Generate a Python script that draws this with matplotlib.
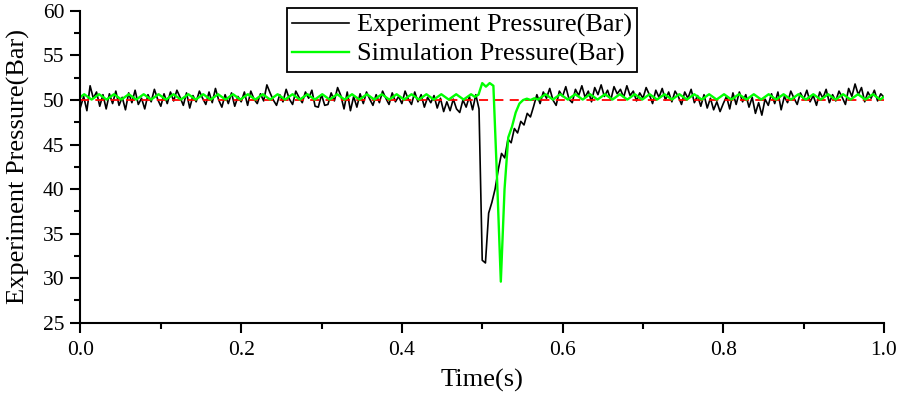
import numpy as np
import matplotlib
matplotlib.use("Agg")
import matplotlib.pyplot as plt
from matplotlib.ticker import MultipleLocator

# experiment pressure, sampled every 0.004 s from 0 to 1 s
exp_pressure = [
    49.2, 50.4, 48.8, 51.6, 50.2, 50.9, 49.3, 50.6, 49.0, 50.7,
    49.6, 51.0, 49.4, 50.3, 48.9, 50.8, 49.7, 51.1, 49.5, 50.2,
    49.0, 50.6, 49.8, 51.2, 50.1, 49.3, 50.7, 49.6, 50.9, 49.9,
    51.1, 50.3, 49.4, 50.8, 49.1, 50.5, 49.8, 51.0, 50.2, 49.5,
    50.9, 49.7, 51.3, 50.0, 49.2, 50.6, 49.6, 50.8, 49.3, 50.4,
    49.8, 50.9, 49.4, 51.0, 50.1, 49.6, 50.7, 49.9, 51.7, 50.8,
    50.0, 49.4, 50.6, 49.8, 51.2, 50.1, 49.5, 51.0, 50.3, 49.7,
    50.9, 50.2, 51.1, 49.3, 49.2, 50.6, 49.4, 49.5, 50.8, 49.9,
    51.4, 50.5, 49.0, 50.9, 48.8, 50.4, 49.2, 50.7, 49.6, 50.9,
    50.1, 49.4, 50.6, 49.7, 51.0, 50.2, 49.5, 50.8, 49.8, 50.4,
    49.6, 51.0, 50.1, 49.5, 50.9, 49.8, 50.6, 49.2, 50.3, 49.7,
    50.5, 49.1, 50.2, 48.7, 49.8, 48.8, 50.1, 49.0, 48.6, 50.0,
    49.2, 50.4, 48.9, 50.6, 49.0,
    32.0, 31.7, 37.3, 38.5, 40.0, 42.2, 44.0, 43.5, 45.6, 45.2,
    46.8, 46.3, 47.6, 47.2, 48.5, 48.1, 49.3, 50.6, 49.6, 50.9,
    50.2, 51.3, 50.0, 49.4, 51.0, 50.4, 51.5, 50.1, 49.7, 51.2,
    50.5, 51.6, 50.3, 51.0, 49.8, 51.4, 50.6, 51.7, 50.4, 51.1,
    50.0, 51.5, 50.7, 51.2, 50.3, 51.6, 50.5, 51.0, 49.9, 50.8,
    50.2, 51.4, 50.6, 49.6, 51.1, 50.3, 51.3, 50.0, 50.9, 49.8,
    51.0, 50.4, 49.5, 50.9, 50.2, 51.2, 49.7, 50.5, 49.3, 50.6,
    49.1, 50.2, 48.9, 49.8, 48.7, 49.6, 50.4, 49.0, 50.8, 49.5,
    50.9, 49.8, 50.6, 49.2, 50.3, 48.5, 49.7, 48.3, 50.1, 49.4,
    50.7, 49.6, 50.9, 48.9, 50.4, 49.7, 51.0, 50.2, 49.5, 50.8,
    50.1, 51.1, 49.8, 50.5, 49.4, 50.9, 50.2, 51.2, 49.7, 50.6,
    49.9, 51.0, 50.3, 49.5, 51.3, 50.4, 51.8, 50.6, 51.4, 49.8,
    50.9, 50.2, 51.1, 49.9, 50.7, 50.3,
]

# simulation pressure, sampled every 1/216 s from 0 to 1 s
sim_pressure = [
    50.35, 50.65, 50.35, 50.05, 50.35, 50.65, 50.35, 50.05,
    50.35, 50.65, 50.35, 50.05, 50.35, 50.65, 50.35, 50.05,
    50.35, 50.65, 50.35, 50.05, 50.35, 50.65, 50.35, 50.05,
    50.35, 50.65, 50.35, 50.05, 50.35, 50.65, 50.35, 50.05,
    50.35, 50.65, 50.35, 50.05, 50.35, 50.65, 50.35, 50.05,
    50.35, 50.65, 50.35, 50.05, 50.35, 50.65, 50.35, 50.05,
    50.35, 50.65, 50.35, 50.05, 50.35, 50.65, 50.35, 50.05,
    50.35, 50.65, 50.35, 50.05, 50.35, 50.65, 50.35, 50.05,
    50.35, 50.65, 50.35, 50.05, 50.35, 50.65, 50.35, 50.05,
    50.35, 50.65, 50.35, 50.05, 50.35, 50.65, 50.35, 50.05,
    50.35, 50.65, 50.35, 50.05, 50.35, 50.65, 50.35, 50.05,
    50.35, 50.65, 50.35, 50.05, 50.35, 50.65, 50.35, 50.05,
    50.35, 50.65, 50.35, 50.05, 50.35, 50.65, 50.35, 50.05,
    50.35, 50.65, 50.35, 50.6,
    51.9, 51.5, 51.9, 51.6, 41.0, 29.6, 40.0, 45.8, 47.0, 48.6, 49.6, 50.0,
    50.15, 50.0, 50.2, 50.05,
    50.35, 50.65, 50.35, 50.05, 50.35, 50.65, 50.35, 50.05,
    50.35, 50.65, 50.35, 50.05, 50.35, 50.65, 50.35, 50.05,
    50.35, 50.65, 50.35, 50.05, 50.35, 50.65, 50.35, 50.05,
    50.35, 50.65, 50.35, 50.05, 50.35, 50.65, 50.35, 50.05,
    50.35, 50.65, 50.35, 50.05, 50.35, 50.65, 50.35, 50.05,
    50.35, 50.65, 50.35, 50.05, 50.35, 50.65, 50.35, 50.05,
    50.35, 50.65, 50.35, 50.05, 50.35, 50.65, 50.35, 50.05,
    50.35, 50.65, 50.35, 50.05, 50.35, 50.65, 50.35, 50.05,
    50.35, 50.65, 50.35, 50.05, 50.35, 50.65, 50.35, 50.05,
    50.35, 50.65, 50.35, 50.05, 50.35, 50.65, 50.35, 50.05,
    50.35, 50.65, 50.35, 50.05, 50.35, 50.65, 50.35, 50.05,
    50.35, 50.65, 50.35, 50.05,
    50.35,
]

set_pressure = 50.0

t_exp = np.linspace(0, 1, len(exp_pressure))
t_sim = np.linspace(0, 1, len(sim_pressure))

plt.rcParams['font.family'] = ['Liberation Serif', 'DejaVu Serif']

fig = plt.figure(figsize=(8.98, 3.95), dpi=100)
ax = fig.add_axes([0.0896, 0.1833, 0.8948, 0.7889])

ax.plot(t_exp, exp_pressure, color='black', lw=1.2, label='Experiment Pressure(Bar)')
ax.plot([0, 1], [set_pressure, set_pressure], color='#ff0000', lw=1.3, ls=(0, (5, 3.5)))
ax.plot(t_sim, sim_pressure, color='#00ff00', lw=1.7, label='Simulation Pressure(Bar)')

ax.set_xlim(0, 1)
ax.set_ylim(25, 60)
ax.xaxis.set_major_locator(MultipleLocator(0.2))
ax.xaxis.set_minor_locator(MultipleLocator(0.1))
ax.yaxis.set_major_locator(MultipleLocator(5))
ax.yaxis.set_minor_locator(MultipleLocator(2.5))
ax.xaxis.set_major_formatter(plt.FuncFormatter(lambda v, p: f"{v:.1f}"))

for s in ['top', 'right']:
    ax.spines[s].set_visible(False)
for s in ['left', 'bottom']:
    ax.spines[s].set_linewidth(1.5)

ax.tick_params(which='major', direction='out', length=7.5, width=1.5, labelsize=15.5, pad=6)
ax.tick_params(which='minor', direction='out', length=4.5, width=1.5)
ax.tick_params(axis='y', which='major', pad=4)

ax.set_xlabel('Time(s)', fontsize=19, labelpad=6)
ax.set_ylabel('Experiment Pressure(Bar)', fontsize=19, labelpad=9)

leg = fig.legend(loc='upper left', bbox_to_anchor=(0.3196, 0.9797), fontsize=19,
                 frameon=True, fancybox=False, framealpha=1, edgecolor='black',
                 handlelength=2.15, handletextpad=0.3, labelspacing=0.2,
                 borderpad=0.2, borderaxespad=0)
leg.get_frame().set_linewidth(1.3)

fig.savefig('out.png', dpi=100)
